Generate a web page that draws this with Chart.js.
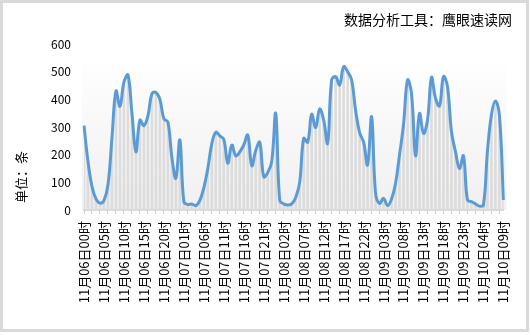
<!DOCTYPE html>
<html>
<head>
<meta charset="utf-8">
<script src="https://cdn.jsdelivr.net/npm/chart.js@4.4.0/dist/chart.umd.min.js"></script>
<style>
  body { margin: 0; background: #fff; }
  #box { width: 529px; height: 332px; border: 3px solid #d9d9d9; box-sizing: border-box; }
  canvas { display: block; }
</style>
</head>
<body>
<div id="box"><canvas id="myChart" width="523" height="326"></canvas></div>
<script>
// hourly counts, one array per day (11/10 stops at 09:00)
const nov06 = [305, 175, 85, 40, 25, 35, 90, 260, 430, 375, 462, 488, 350, 210, 325, 305, 340, 420, 425, 400, 330, 318, 190, 115];
const nov07 = [253, 30, 20, 22, 16, 35, 80, 150, 240, 281, 268, 255, 169, 235, 196, 210, 235, 271, 160, 215, 245, 120, 135, 175];
const nov08 = [349, 35, 22, 18, 22, 45, 100, 259, 245, 346, 298, 365, 325, 241, 470, 482, 452, 518, 500, 470, 360, 280, 245, 163];
const nov09 = [337, 60, 24, 42, 16, 40, 96, 200, 310, 470, 420, 196, 349, 277, 325, 479, 404, 376, 482, 446, 283, 211, 150, 196];
const nov10 = [36, 30, 22, 14, 18, 211, 343, 394, 343, 36];
const days = ['06', '07', '08', '09', '10'];
const yTicks = [0, 100, 200, 300, 400, 500, 600];

const titleText = '数据分析工具：鹰眼速读网';
const unitText = '单位：条';

const values = nov06.concat(nov07, nov08, nov09, nov10);
const labels = [];
days.forEach(d => {
    for (let h = 0; h < 24 && labels.length < values.length; h++) {
        labels.push('11月' + d + '日' + String(h).padStart(2, '0') + '时');
    }
});

Chart.defaults.font.family = '"Noto Sans CJK SC", sans-serif';
Chart.defaults.color = '#000';

// soft grey backdrop behind the plot plus the two free-standing texts
const decorations = {
    id: 'decorations',
    beforeDraw(chart) {
        const { ctx, chartArea } = chart;
        const top = chartArea.top + 19;
        const grad = ctx.createLinearGradient(0, top, 0, chartArea.bottom);
        grad.addColorStop(0, '#fefefe');
        grad.addColorStop(1, '#f0f0f0');
        ctx.save();
        ctx.fillStyle = grad;
        ctx.fillRect(chartArea.left - 2, top, chartArea.width + 5, chartArea.bottom - top);
        ctx.restore();
    },
    afterDraw(chart) {
        const ctx = chart.ctx;
        ctx.save();
        ctx.fillStyle = '#000';
        ctx.font = '14px "Noto Sans CJK SC", sans-serif';
        ctx.textAlign = 'right';
        ctx.textBaseline = 'middle';
        ctx.fillText(titleText, 509, 17);

        ctx.font = '13px "Noto Sans CJK SC", sans-serif';
        ctx.translate(18, 174);
        ctx.rotate(-Math.PI / 2);
        ctx.textAlign = 'center';
        ctx.fillText(unitText, 0, 0);
        ctx.restore();
    }
};

const ctx = document.getElementById('myChart').getContext('2d');
window.myChart = new Chart(ctx, {
    type: 'bar',
    data: {
        labels: labels,
        datasets: [{
            type: 'line',
            data: values,
            borderColor: '#5b9bd5',
            borderWidth: 3,
            pointRadius: 0,
            tension: 0.4,
            order: 0
        }, {
            type: 'bar',
            data: values,
            backgroundColor: '#dcdcdc',
            barThickness: 2,
            order: 1
        }]
    },
    options: {
        responsive: false,
        animation: false,
        layout: { padding: { top: 41, right: 18, left: 0, bottom: 0 } },
        plugins: {
            legend: { display: false },
            tooltip: { enabled: false }
        },
        scales: {
            x: {
                offset: false,
                grid: {
                    offset: false,
                    drawOnChartArea: false,
                    tickLength: 4,
                    tickColor: c => (c.index % 2 === 0 ? '#d0d0d0' : 'rgba(0,0,0,0)')
                },
                border: { color: '#d9d9d9', width: 2 },
                ticks: {
                    autoSkip: false,
                    minRotation: 90,
                    maxRotation: 90,
                    padding: 7,
                    font: { size: 13 },
                    callback: (v, i) => (i % 5 === 0 ? labels[i] : '')
                },
                afterFit: s => { s.height = 119; }
            },
            y: {
                min: 0,
                max: 600,
                grid: { display: false, drawTicks: false },
                border: { display: false },
                afterBuildTicks: s => { s.ticks = yTicks.map(v => ({ value: v })); },
                ticks: { padding: 13, font: { size: 12 } },
                afterFit: s => { s.width = 81; }
            }
        }
    },
    plugins: [decorations]
});
</script>
</body>
</html>
